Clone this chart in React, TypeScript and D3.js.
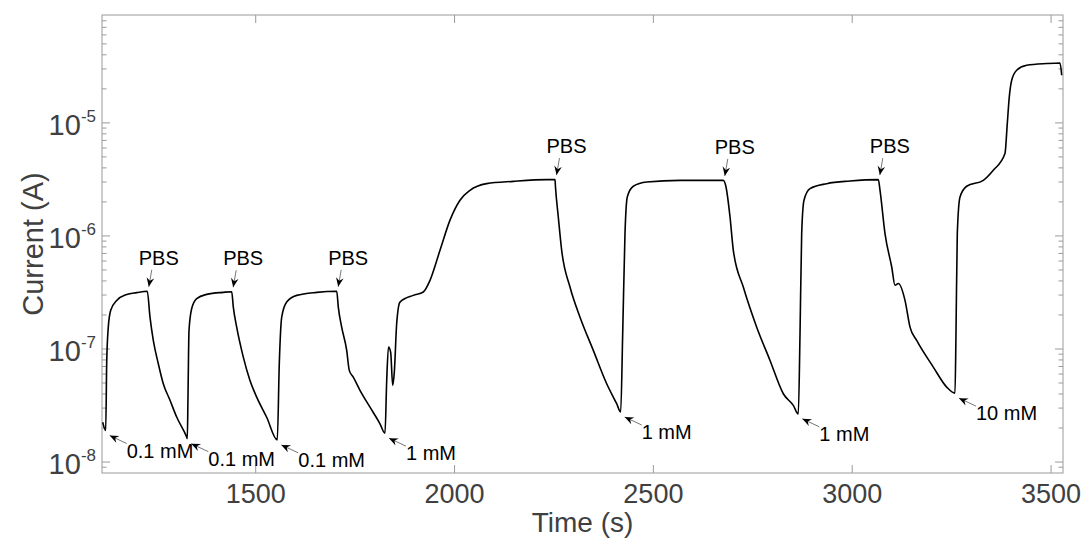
import React from "react";
import * as d3 from "d3";

// current vs time trace
const times = [
  1115.3, 1122.8, 1125.3, 1129.3, 1135.4, 1150.5, 1175.6, 1200.8, 1227.4,
  1234.2, 1242.5, 1255.1, 1267.6, 1284.5, 1301.3, 1326.5, 1328.0,
  1329.7, 1332.3, 1339.1, 1351.6, 1376.8, 1418.5, 1439.6,
  1443.7, 1452.2, 1468.8, 1485.6, 1502.5, 1527.6, 1554.3,
  1559.3, 1565.4, 1577.9, 1603.1, 1653.4, 1703.7,
  1707.7, 1716.2, 1728.8, 1735.3, 1745.4, 1762.2, 1787.4, 1812.5, 1825.1,
  1829.4, 1833.9, 1839.4, 1844.5, 1848.5, 1854.5, 1862.8, 1896.3, 1921.4,
  1938.3, 1963.4, 1988.6, 2013.7, 2038.8, 2080.8, 2147.7, 2231.7, 2252.6,
  2253.8, 2260.9, 2269.4, 2290.3, 2315.5, 2348.9, 2382.6, 2407.7, 2417.8,
  2422.8, 2428.6, 2434.4, 2449.5, 2483.2, 2567.0, 2675.8,
  2682.6, 2692.7, 2701.0, 2726.1, 2759.8, 2793.3, 2826.7, 2851.8, 2864.4,
  2868.7, 2872.9, 2878.7, 2893.8, 2935.8, 2994.4, 3065.6,
  3069.8, 3082.4, 3099.3, 3107.6, 3115.9, 3132.7, 3145.3, 3162.1, 3203.9, 3237.6, 3258.4,
  3260.9, 3264.2, 3271.0, 3287.8, 3329.6, 3354.7, 3384.1, 3389.9, 3394.9,
  3401.0, 3413.5, 3438.7, 3488.9, 3522.4, 3526.7,
];
const currents = [
  2.25e-8, 1.9e-8, 7.5e-8, 1.56e-7, 2.2e-7, 2.69e-7, 3.03e-7, 3.15e-7, 3.24e-7,
  1.91e-7, 1.19e-7, 7.41e-8, 4.93e-8, 3.52e-8, 2.5e-8, 1.66e-8, 1.61e-8,
  3.75e-8, 1.46e-7, 2.28e-7, 2.79e-7, 3.04e-7, 3.17e-7, 3.21e-7,
  2.35e-7, 1.56e-7, 8.48e-8, 5.27e-8, 3.75e-8, 2.49e-8, 1.57e-8,
  7.41e-8, 1.91e-7, 2.6e-7, 2.98e-7, 3.17e-7, 3.24e-7,
  2.35e-7, 1.56e-7, 9.73e-8, 6.47e-8, 5.64e-8, 4.31e-8, 3.06e-8, 2.18e-8, 1.8e-8,
  5.27e-8, 1.04e-7, 9.33e-8, 4.77e-8, 6.21e-8, 1.68e-7, 2.6e-7, 2.98e-7, 3.19e-7,
  4.05e-7, 7.46e-7, 1.38e-6, 2.07e-6, 2.53e-6, 2.9e-6, 3.04e-6, 3.15e-6, 3.15e-6,
  2.71e-6, 1.47e-6, 7.46e-7, 3.53e-7, 1.91e-7, 9.73e-8, 4.93e-8, 3.28e-8, 2.77e-8,
  1.36e-7, 1.05e-6, 2.21e-6, 2.75e-6, 3.0e-6, 3.1e-6, 3.1e-6,
  2.71e-6, 1.47e-6, 7.46e-7, 3.53e-7, 1.56e-7, 7.92e-8, 4.02e-8, 3.17e-8, 2.67e-8,
  1.36e-7, 1.05e-6, 2.07e-6, 2.62e-6, 2.9e-6, 3.06e-6, 3.15e-6,
  2.54e-6, 1.05e-6, 5.31e-7, 3.66e-7, 3.79e-7, 2.69e-7, 1.56e-7, 1.19e-7, 6.92e-8, 4.6e-8, 4.07e-8,
  1.36e-7, 1.05e-6, 2.21e-6, 2.75e-6, 3.1e-6, 3.81e-6, 5.35e-6, 9.86e-6, 1.69e-5,
  2.38e-5, 2.92e-5, 3.23e-5, 3.35e-5, 3.39e-5, 2.64e-5,
];

// annotations
const pbsTimes = [1227.4, 1439.6, 1703.7, 2252.6, 2675.8, 3065.6];
const pbsCurrents = [3.24e-7, 3.21e-7, 3.24e-7, 3.15e-6, 3.1e-6, 3.15e-6];
const concTimes = [1122.8, 1328.0, 1554.3, 1825.1, 2417.8, 2864.4, 3258.4];
const concCurrents = [1.9e-8, 1.61e-8, 1.57e-8, 1.8e-8, 2.77e-8, 2.67e-8, 4.07e-8];
const concLabels = ["0.1 mM", "0.1 mM", "0.1 mM", "1 mM", "1 mM", "1 mM", "10 mM"];

const xTicks = [1500, 2000, 2500, 3000, 3500];
const yTicks = [1e-8, 1e-7, 1e-6, 1e-5];
const yExponents = ["-8", "-7", "-6", "-5"];

const font = "'Liberation Sans', Arial, Helvetica, sans-serif";

function arrowHead(tx: number, ty: number, fx: number, fy: number) {
  const dx = tx - fx, dy = ty - fy;
  const len = Math.sqrt(dx * dx + dy * dy);
  const ux = dx / len, uy = dy / len;
  const nx = -uy, ny = ux;
  const L = 9, w = 3.8, notch = 6;
  const bx = tx - ux * L, by = ty - uy * L;
  return `M${tx},${ty}L${bx + nx * w},${by + ny * w}L${tx - ux * notch},${ty - uy * notch}L${bx - nx * w},${by - ny * w}Z`;
}

export default function App() {
  const left = 102, right = 1063, top = 15, bottom = 473;
  const x = d3.scaleLinear().domain([1113.5, 3530]).range([left, right]);
  const y = d3.scaleLog().domain([8e-9, 9e-5]).range([bottom, top]);

  const line = d3
    .line<number>()
    .x((d, i) => x(times[i]))
    .y((d) => y(d))
    .curve(d3.curveMonotoneX);

  const minor: number[] = [];
  for (let k = -9; k <= -5; k++) {
    for (let m = 2; m <= 9; m++) {
      const v = m * Math.pow(10, k);
      if (v > 8e-9 && v < 9e-5) minor.push(v);
    }
  }

  const axisColor = "#9a9a9a";
  const textColor = "#404040";

  return (
    <svg
      width={1085}
      height={540}
      style={{ position: "absolute", left: 0, top: 0, background: "#fff" }}
    >
      <defs>
        <clipPath id="plotArea">
          <rect x={left} y={top} width={right - left} height={bottom - top} />
        </clipPath>
      </defs>

      {/* ticks, inward like matlab */}
      <g stroke={axisColor} strokeWidth={1}>
        {xTicks.map((t) => (
          <g key={"xt" + t}>
            <line x1={x(t)} x2={x(t)} y1={bottom} y2={bottom - 8} />
            <line x1={x(t)} x2={x(t)} y1={top} y2={top + 8} />
          </g>
        ))}
        {yTicks.map((t) => (
          <g key={"yt" + t}>
            <line x1={left} x2={left + 8} y1={y(t)} y2={y(t)} />
            <line x1={right} x2={right - 8} y1={y(t)} y2={y(t)} />
          </g>
        ))}
        {minor.map((t) => (
          <g key={"ym" + t}>
            <line x1={left} x2={left + 4.5} y1={y(t)} y2={y(t)} />
            <line x1={right} x2={right - 4.5} y1={y(t)} y2={y(t)} />
          </g>
        ))}
      </g>
      <rect
        x={left}
        y={top}
        width={right - left}
        height={bottom - top}
        fill="none"
        stroke={axisColor}
        strokeWidth={1}
      />

      {/* tick labels */}
      <g fontFamily={font} fill={textColor}>
        {xTicks.map((t) => (
          <text key={"xl" + t} x={x(t)} y={bottom + 30} fontSize={27} textAnchor="middle">
            {t}
          </text>
        ))}
        {yTicks.map((t, i) => (
          <text key={"yl" + t} x={96} y={y(t) + 12} fontSize={29} textAnchor="end">
            10
            <tspan fontSize={17} dy={-13}>
              {yExponents[i]}
            </tspan>
          </text>
        ))}
        <text x={(left + right) / 2} y={532} fontSize={28} textAnchor="middle">
          Time (s)
        </text>
        <text
          transform={`translate(43, 244) rotate(-90)`}
          fontSize={29}
          textAnchor="middle"
        >
          Current (A)
        </text>
      </g>

      <path
        d={line(currents) || ""}
        fill="none"
        stroke="#000"
        strokeWidth={1.6}
        strokeLinejoin="round"
        clipPath="url(#plotArea)"
      />

      {/* PBS arrows */}
      <g fontFamily={font} fontSize={20} fill="#000">
        {pbsTimes.map((t, i) => {
          const tx = x(t) + 1.5, ty = y(pbsCurrents[i]) - 4.5;
          const fx = tx + 3, fy = ty - 17;
          return (
            <g key={"pbs" + i}>
              <line x1={fx} y1={fy} x2={tx} y2={ty} stroke="#777" strokeWidth={1} />
              <path d={arrowHead(tx, ty, fx, fy)} fill="#000" />
              <text x={tx + 10} y={ty - 22} textAnchor="middle">
                PBS
              </text>
            </g>
          );
        })}
        {/* concentration arrows */}
        {concTimes.map((t, i) => {
          const tx = x(t) + 4, ty = y(concCurrents[i]) + 5;
          const fx = tx + 17, fy = ty + 8;
          return (
            <g key={"c" + i}>
              <line x1={fx} y1={fy} x2={tx} y2={ty} stroke="#777" strokeWidth={1} />
              <path d={arrowHead(tx, ty, fx, fy)} fill="#000" />
              <text x={tx + 17} y={ty + 22}>
                {concLabels[i]}
              </text>
            </g>
          );
        })}
      </g>
    </svg>
  );
}
